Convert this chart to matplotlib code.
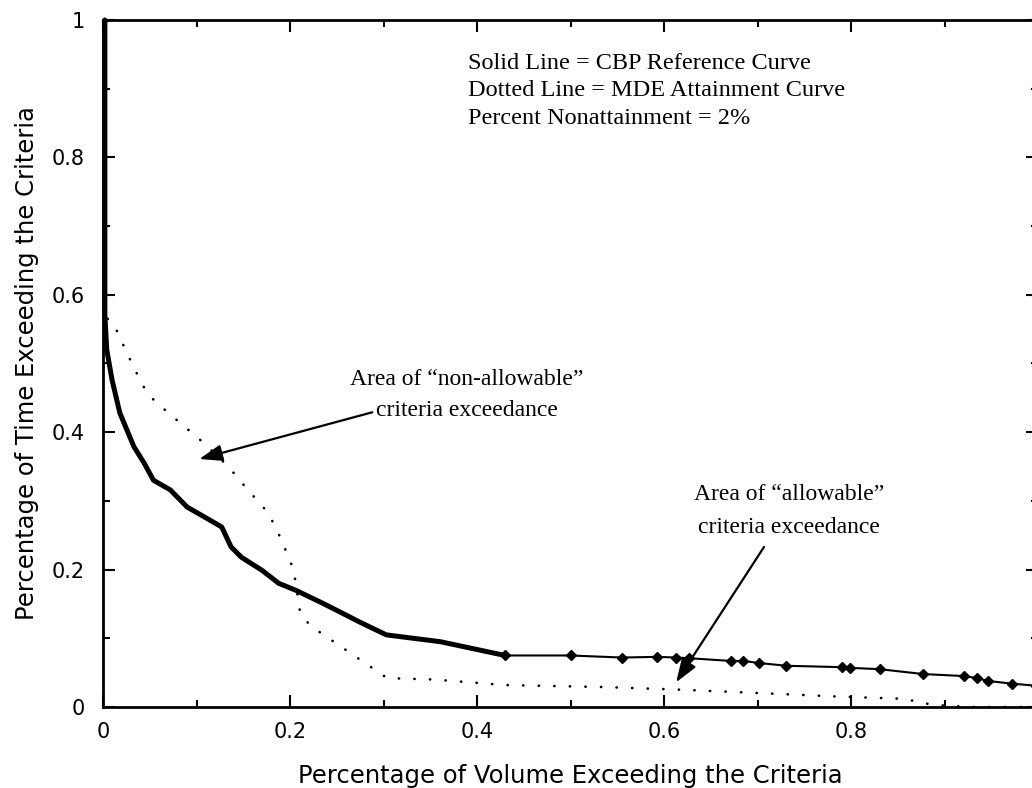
import matplotlib
matplotlib.use('Agg')
import matplotlib.pyplot as plt
from matplotlib.ticker import MultipleLocator, FormatStrFormatter

# CBP reference curve (solid), steep/thick part
ref_x = [0.002, 0.002, 0.002, 0.004, 0.0097, 0.018, 0.033, 0.044, 0.054, 0.072, 0.090,
         0.108, 0.127, 0.137, 0.148, 0.170, 0.188, 0.206, 0.235, 0.264, 0.274,
         0.303, 0.361, 0.43]
ref_y = [1.0, 0.80, 0.57, 0.52, 0.476, 0.428, 0.379, 0.355, 0.330, 0.316, 0.291,
         0.277, 0.262, 0.233, 0.218, 0.199, 0.180, 0.170, 0.151, 0.131, 0.124,
         0.105, 0.095, 0.075]
# CBP reference curve, flat tail with marked points
tail_x = [0.43, 0.50, 0.555, 0.593, 0.613, 0.627, 0.672, 0.685, 0.702, 0.731,
          0.790, 0.799, 0.831, 0.877, 0.921, 0.935, 0.946, 0.972, 0.998]
tail_y = [0.075, 0.075, 0.072, 0.073, 0.072, 0.071, 0.067, 0.067, 0.064, 0.060,
          0.058, 0.057, 0.055, 0.048, 0.045, 0.042, 0.038, 0.034, 0.031]
# MDE attainment curve (dotted)
mde_x = [0.005, 0.011, 0.024, 0.036, 0.047, 0.058, 0.083, 0.108, 0.134, 0.155,
         0.177, 0.191, 0.204, 0.211, 0.222, 0.236, 0.263, 0.277, 0.291, 0.304,
         0.354, 0.429, 0.537, 0.622, 0.707, 0.789, 0.856, 0.888, 0.93, 1.0]
mde_y = [0.565, 0.559, 0.520, 0.486, 0.457, 0.442, 0.413, 0.384, 0.350, 0.316,
         0.282, 0.243, 0.199, 0.136, 0.118, 0.105, 0.080, 0.067, 0.054, 0.042,
         0.040, 0.032, 0.029, 0.025, 0.020, 0.015, 0.012, 0.003, 0.0, 0.0]

notes = ['Solid Line = CBP Reference Curve',
         'Dotted Line = MDE Attainment Curve',
         'Percent Nonattainment = 2%']
nonallow_lines = ['Area of \u201cnon-allowable\u201d', 'criteria exceedance']
allow_lines = ['Area of \u201callowable\u201d', 'criteria exceedance']

fig = plt.figure(figsize=(10.32, 7.88), dpi=100)
# right spine sits just past the picture edge, as in the scan
ax = fig.add_axes([103 / 1032, 1 - 707 / 788, 935 / 1032, 687 / 788])

ax.plot(ref_x, ref_y, color='black', lw=3.6, solid_joinstyle='round',
        solid_capstyle='round', clip_on=False, zorder=3)
ax.plot(tail_x, tail_y, color='black', lw=1.5, marker='D', ms=5.5, zorder=3)
ax.plot(mde_x, mde_y, color='black', lw=1.9, linestyle=(0, (0.1, 5.8)),
        dash_capstyle='round', zorder=2)

ax.set_xlim(0, 1)
ax.set_ylim(0, 1)
ax.xaxis.set_minor_locator(MultipleLocator(0.1))
ax.yaxis.set_major_locator(MultipleLocator(0.2))
ax.yaxis.set_minor_locator(MultipleLocator(0.1))
ax.xaxis.set_major_formatter(FormatStrFormatter('%g'))
ax.yaxis.set_major_formatter(FormatStrFormatter('%g'))
ax.set_xticks([0, 0.2, 0.4, 0.6, 0.8])
ax.tick_params(which='both', direction='in', top=True, right=True, width=1.5,
               labelsize=15)
ax.tick_params(axis='x', pad=11)
ax.tick_params(axis='y', pad=13)
ax.tick_params(which='major', length=8.5)
ax.tick_params(which='minor', length=5)
for s in ax.spines.values():
    s.set_linewidth(2)

ax.set_xlabel('Percentage of Volume Exceeding the Criteria', fontsize=17.5)
ax.set_ylabel('Percentage of Time Exceeding the Criteria', fontsize=17.5)
ax.xaxis.set_label_coords(0.5, -0.083)
ax.yaxis.set_label_coords(-0.068, 0.5)

serif = 'Liberation Serif'
for i, t in enumerate(notes):
    ax.text(0.390, 0.937 - i * 0.040, t, family=serif, fontsize=17.5, va='center')
for i, t in enumerate(nonallow_lines):
    ax.text(0.389, 0.476 - i * 0.045, t, family=serif, fontsize=17,
            ha='center', va='center')
for i, t in enumerate(allow_lines):
    ax.text(0.734, 0.309 - i * 0.047, t, family=serif, fontsize=17,
            ha='center', va='center')

arrow = dict(arrowstyle='-|>,head_length=0.7,head_width=0.25', color='black',
             lw=1.6, shrinkA=0, shrinkB=0, mutation_scale=20)
ax.annotate('', xy=(0.103, 0.361), xytext=(0.288, 0.429), arrowprops=arrow)
ax.annotate('', xy=(0.613, 0.036), xytext=(0.707, 0.233), arrowprops=arrow)

fig.savefig('out.png', dpi=100)
